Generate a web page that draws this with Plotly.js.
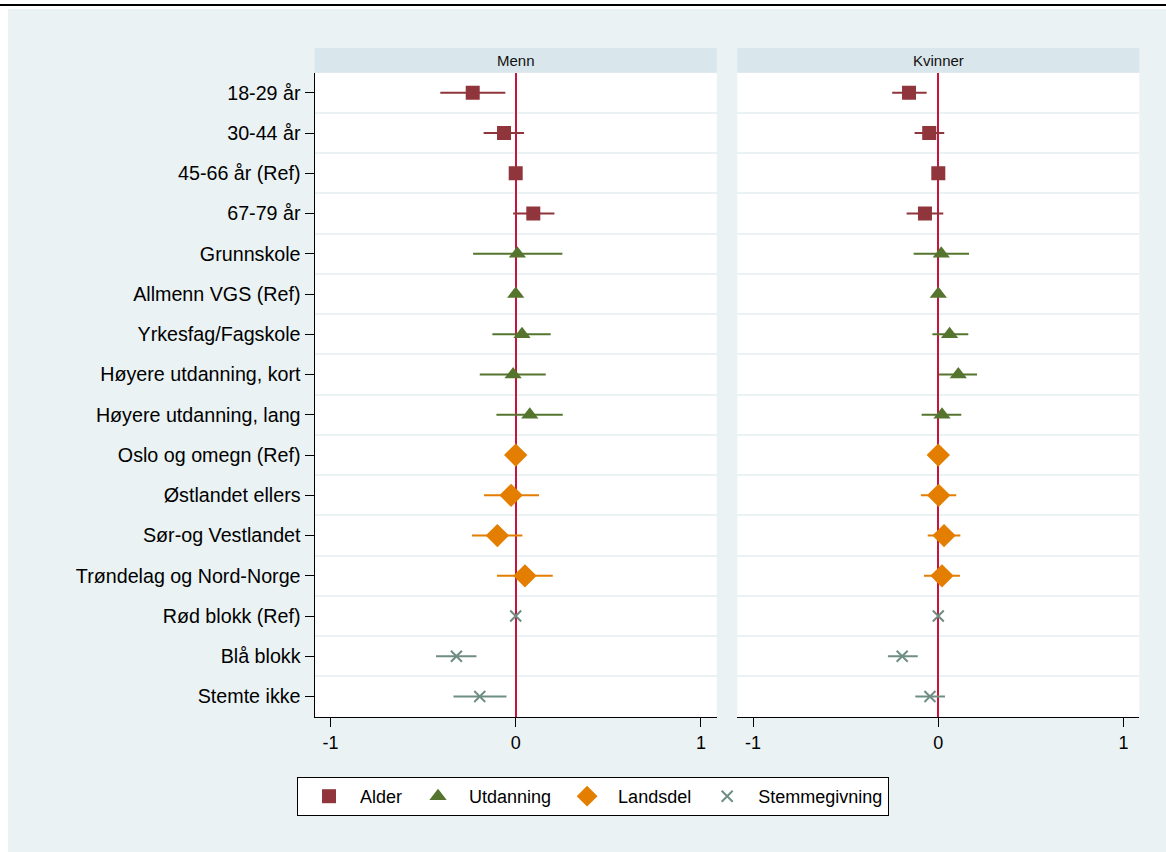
<!DOCTYPE html>
<html>
<head>
<meta charset="utf-8">
<script src="https://cdn.plot.ly/plotly-3.0.1.min.js"></script>
<style>html,body{margin:0;padding:0;background:#fff;}#chart{width:1166px;height:852px;}</style>
</head>
<body>
<div id="chart"></div>
<script>
// ---- Data ----
const categories = ["18-29 år","30-44 år","45-66 år (Ref)","67-79 år",
  "Grunnskole","Allmenn VGS (Ref)","Yrkesfag/Fagskole","Høyere utdanning, kort","Høyere utdanning, lang",
  "Oslo og omegn (Ref)","Østlandet ellers","Sør-og Vestlandet","Trøndelag og Nord-Norge",
  "Rød blokk (Ref)","Blå blokk","Stemte ikke"];
const groups = ["Alder","Utdanning","Landsdel","Stemmegivning"];
const groupOf = [0,0,0,0, 1,1,1,1,1, 2,2,2,2, 3,3,3];
const panels = ["Menn","Kvinner"];

const mennEst = [-0.232,-0.063,0,0.095, 0.009,0,0.034,-0.014,0.076, 0,-0.025,-0.099,0.050, 0,-0.320,-0.194];
const mennLo  = [-0.407,-0.173,0,-0.014, -0.230,0,-0.126,-0.194,-0.104, 0,-0.171,-0.236,-0.101, 0,-0.430,-0.336];
const mennHi  = [-0.056,0.045,0,0.209, 0.252,0,0.189,0.162,0.254, 0,0.126,0.036,0.200, 0,-0.212,-0.050];

const kvinnerEst = [-0.158,-0.049,0,-0.072, 0.016,0,0.061,0.108,0.020, 0,0.002,0.031,0.020, 0,-0.195,-0.045];
const kvinnerLo  = [-0.249,-0.128,0,-0.171, -0.133,0,-0.032,0.004,-0.090, 0,-0.094,-0.057,-0.077, 0,-0.272,-0.124];
const kvinnerHi  = [-0.063,0.032,0,0.027, 0.166,0,0.162,0.209,0.124, 0,0.097,0.119,0.117, 0,-0.111,0.036];

const xTicks = [-1,0,1];
const xTickText = ["-1","0","1"];

// ---- Styles ----
const FONT = "Liberation Sans, Arial, Helvetica, sans-serif";
const colors = ["#90353B","#55752F","#E37E00","#6E8E84"];
const symbols = ["square","triangle-up","diamond","x-thin"];
const sizes = [14,15,18,11];

const panelData = [
  {est: mennEst, lo: mennLo, hi: mennHi, xa: "x", ya: "y"},
  {est: kvinnerEst, lo: kvinnerLo, hi: kvinnerHi, xa: "x2", ya: "y2"}
];

const traces = [];
panelData.forEach((p, pi) => {
  groups.forEach((g, gi) => {
    const idx = categories.map((_, i) => i).filter(i => groupOf[i] === gi);
    const isX = symbols[gi] === "x-thin";
    traces.push({
      type: "scatter", mode: "markers",
      name: g, legendgroup: g, showlegend: pi === 0,
      x: idx.map(i => p.est[i]),
      y: idx,
      xaxis: p.xa, yaxis: p.ya,
      error_x: {
        type: "data", symmetric: false,
        array: idx.map(i => p.hi[i] - p.est[i]),
        arrayminus: idx.map(i => p.est[i] - p.lo[i]),
        color: colors[gi], thickness: 2, width: 0
      },
      marker: {
        symbol: symbols[gi], size: sizes[gi], color: colors[gi],
        line: isX ? {color: colors[gi], width: 2} : {width: 0}
      },
      hoverinfo: "x+y"
    });
  });
});

const yIdx = categories.map((_, i) => i);
const H = 852, W = 1166;
const yTop = 1 - 72.7 / H, yBot = 1 - 716.7 / H;
const stripTop = 1 - 48 / H;

function xAxis(domain, anchor) {
  return {
    domain: domain, anchor: anchor, range: [-1.085, 1.085],
    tickmode: "array", tickvals: xTicks, ticktext: xTickText,
    ticks: "outside", ticklen: 9, tickwidth: 1, tickcolor: "#000",
    showline: true, linecolor: "#000", linewidth: 1.2,
    showgrid: false, zeroline: true, zerolinecolor: "#C8143C", zerolinewidth: 2,
    tickfont: {family: FONT, size: 18, color: "#000"}, fixedrange: true
  };
}
function yAxis(anchor, showLabels) {
  return {
    domain: [yBot, yTop], anchor: anchor, range: [15.5, -0.5],
    tickmode: "array", tickvals: yIdx, ticktext: categories,
    ticks: showLabels ? "outside" : "", ticklen: 9, tickwidth: 1, tickcolor: "#000",
    showticklabels: showLabels,
    showline: showLabels, linecolor: "#000", linewidth: 1.2,
    showgrid: false, zeroline: false,
    minor: {tick0: 0.5, dtick: 1, showgrid: true, gridcolor: "#EAF2F3", gridwidth: 2, ticks: ""},
    tickfont: {family: FONT, size: 19.7, color: "#000"}, fixedrange: true
  };
}

const xDom1 = [314.7 / W, 716.7 / W];
const xDom2 = [737.3 / W, 1139.3 / W];

const shapes = [
  {type: "rect", xref: "paper", yref: "paper", x0: 0, x1: 8 / W, y0: 0, y1: 1, fillcolor: "#fff", line: {width: 0}, layer: "below"},
  {type: "rect", xref: "paper", yref: "paper", x0: 0, x1: 1, y0: 1 - 9 / H, y1: 1, fillcolor: "#fff", line: {width: 0}, layer: "below"},
  {type: "line", xref: "paper", yref: "paper", x0: 0, x1: 1, y0: 1 - 5 / H, y1: 1 - 5 / H, line: {color: "#000", width: 2}},
  {type: "rect", xref: "paper", yref: "paper", x0: xDom1[0], x1: xDom1[1], y0: yTop, y1: stripTop, fillcolor: "#D9E6EB", line: {width: 0}},
  {type: "rect", xref: "paper", yref: "paper", x0: xDom2[0], x1: xDom2[1], y0: yTop, y1: stripTop, fillcolor: "#D9E6EB", line: {width: 0}}
];
const annotations = [
  {text: panels[0], xref: "paper", yref: "paper", x: (xDom1[0] + xDom1[1]) / 2, y: (yTop + stripTop) / 2, showarrow: false, xanchor: "center", yanchor: "middle", font: {family: FONT, size: 15, color: "#111"}},
  {text: panels[1], xref: "paper", yref: "paper", x: (xDom2[0] + xDom2[1]) / 2, y: (yTop + stripTop) / 2, showarrow: false, xanchor: "center", yanchor: "middle", font: {family: FONT, size: 15, color: "#111"}}
];

const layout = {
  width: W, height: H,
  margin: {l: 0, r: 0, t: 0, b: 0},
  paper_bgcolor: "#EAF2F3", plot_bgcolor: "#FFFFFF",
  font: {family: FONT, color: "#000"},
  showlegend: true,
  legend: {
    orientation: "h", x: 593 / W, xanchor: "center", y: 1 - 777 / H, yanchor: "top",
    bgcolor: "#FFFFFF", bordercolor: "#000", borderwidth: 1,
    font: {family: FONT, size: 18, color: "#000"}, itemwidth: 52, traceorder: "normal"
  },
  xaxis: xAxis(xDom1, "y"),
  xaxis2: xAxis(xDom2, "y2"),
  yaxis: yAxis("x", true),
  yaxis2: yAxis("x2", false),
  shapes: shapes,
  annotations: annotations
};

Plotly.newPlot("chart", traces, layout, {displayModeBar: false, staticPlot: true});
</script>
</body>
</html>
